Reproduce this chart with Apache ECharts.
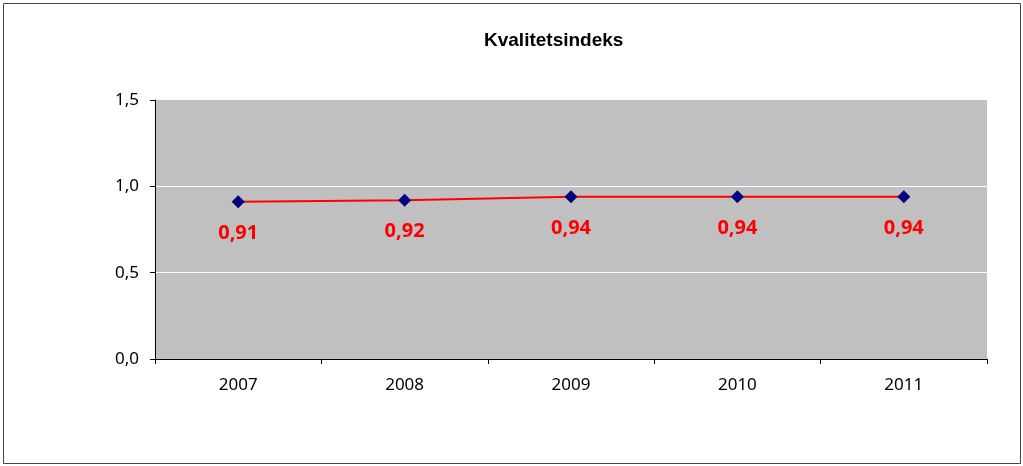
<!DOCTYPE html>
<html>
<head>
<meta charset="utf-8">
<script src="https://cdn.jsdelivr.net/npm/echarts@6/dist/echarts.min.js"></script>
<style>
html,body{margin:0;padding:0;background:#fff;}
#c{width:1023px;height:466px;}
</style>
</head>
<body>
<div id="c"></div>
<script>
var categories = ['2007', '2008', '2009', '2010', '2011'];
var values = [0.91, 0.92, 0.94, 0.94, 0.94];
var yTicks = [0, 0.5, 1.0, 1.5];

var chart = echarts.init(document.getElementById('c'));
function comma(v){ return Number(v).toFixed(1).replace('.', ','); }
chart.setOption({
  animation: false,
  title: {
    text: 'Kvalitetsindeks',
    left: 479,
    top: 26,
    textStyle: { fontFamily: 'Liberation Sans', fontWeight: 'bold', fontSize: 19, color: '#000' }
  },
  graphic: [{
    type: 'rect',
    shape: { x: 3.5, y: 3.5, width: 1017, height: 460 },
    style: { fill: 'none', stroke: '#444', lineWidth: 1 },
    silent: true, z: -10
  }],
  grid: {
    left: 155, right: 36, top: 100, bottom: 107,
    show: true, backgroundColor: '#C0C0C0', borderWidth: 0
  },
  xAxis: {
    type: 'category',
    data: categories,
    boundaryGap: true,
    axisLine: { show: true, lineStyle: { color: '#000', width: 1 } },
    axisTick: { show: true, length: 5, alignWithLabel: false, lineStyle: { color: '#000' } },
    axisLabel: { margin: 18, fontFamily: 'Noto Sans', fontSize: 17, color: '#000' },
    splitLine: { show: false }
  },
  yAxis: {
    type: 'value',
    min: yTicks[0], max: yTicks[yTicks.length - 1], interval: 0.5,
    axisLine: { show: true, lineStyle: { color: '#000', width: 1 } },
    axisTick: { show: true, length: 5, lineStyle: { color: '#000' } },
    axisLabel: { margin: 16, fontFamily: 'Noto Sans', fontSize: 17, color: '#000',
      formatter: function(v){ return comma(v); } },
    splitLine: { show: true, lineStyle: { color: ['#C0C0C0', '#ffffff', '#ffffff', '#C0C0C0'], width: 1 } }
  },
  series: [{
    type: 'line',
    data: values,
    symbol: 'diamond',
    symbolSize: 13,
    itemStyle: { color: '#000080' },
    lineStyle: { color: '#FF0000', width: 2 },
    label: {
      show: true, position: 'bottom', distance: 15,
      color: '#FF0000', fontFamily: 'Noto Sans', fontWeight: 'bold', fontSize: 20,
      formatter: function(p){ return p.value.toFixed(2).replace('.', ','); }
    }
  }]
});
</script>
</body>
</html>
